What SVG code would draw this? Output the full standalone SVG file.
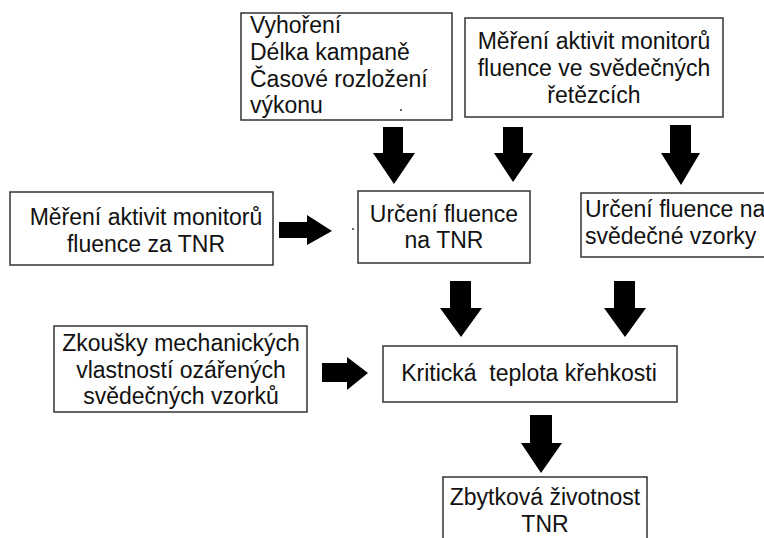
<svg xmlns="http://www.w3.org/2000/svg" width="764" height="538" viewBox="0 0 764 538">
<style>
.box{fill:#fff;stroke:#333;stroke-width:1.5}
.t{font-family:"Liberation Sans",Arial,sans-serif;font-size:23px;fill:#111}
.c{text-anchor:middle}
.arr{fill:#000}
</style>
<rect x="0" y="0" width="764" height="538" fill="#fff"/>
<g id="connectors">
<polygon class="arr" points="383,127 403,127 403,153 415,153 394,184 373,153 383,153"/>
<polygon class="arr" points="503,127 523,127 523,153 533,153 513,182 494,153 503,153"/>
<polygon class="arr" points="670,125 691,125 691,153 700,153 681,185 661,153 670,153"/>
<polygon class="arr" points="450,281 471,281 471,308 482,308 461,337 440,308 450,308"/>
<polygon class="arr" points="614,281 635,281 635,308 646,308 625,337 604,308 614,308"/>
<polygon class="arr" points="530,415 552,415 552,443 562,443 541,473 521,443 530,443"/>
<polygon class="arr" points="279,222 307,222 307,215 332,231 307,245 307,238 279,238"/>
<polygon class="arr" points="322,363 347,363 347,357 368,373 347,390 347,382 322,382"/>
</g>
<g id="n1">
<rect class="box" x="241" y="13" width="211" height="107"/>
<text class="t" x="250" y="33">Vyhoření</text>
<text class="t" x="250" y="60">Délka kampaně</text>
<text class="t" x="250" y="87">Časové rozložení</text>
<text class="t" x="250" y="113">výkonu</text>
<circle cx="401" cy="110" r="1" fill="#333"/>
</g>
<g id="n2">
<rect class="box" x="465" y="18" width="258" height="99"/>
<text class="t c" x="594" y="49">Měření aktivit monitorů</text>
<text class="t c" x="594" y="76">fluence ve svědečných</text>
<text class="t c" x="594" y="103">řetězcích</text>
</g>
<g id="n3">
<rect class="box" x="10" y="192" width="263" height="73"/>
<text class="t c" x="146" y="225">Měření aktivit monitorů</text>
<text class="t c" x="146" y="252">fluence za TNR</text>
</g>
<g id="n4">
<rect class="box" x="358" y="191" width="172" height="72"/>
<text class="t c" x="444" y="222">Určení fluence</text>
<text class="t c" x="444" y="248">na TNR</text>
<circle cx="353" cy="229" r="1" fill="#333"/>
</g>
<g id="n5">
<rect class="box" x="581" y="193" width="200" height="64"/>
<text class="t" x="585" y="217">Určení fluence na</text>
<text class="t" x="585" y="244">svědečné vzorky</text>
</g>
<g id="n6">
<rect class="box" x="383" y="346" width="294" height="56"/>
<text class="t c" x="529" y="381" xml:space="preserve">Kritická  teplota křehkosti</text>
</g>
<g id="n7">
<rect class="box" x="54" y="326" width="253" height="86"/>
<text class="t c" x="181" y="351">Zkoušky mechanických</text>
<text class="t c" x="181" y="378">vlastností ozářených</text>
<text class="t c" x="181" y="404">svědečných vzorků</text>
</g>
<g id="n8">
<rect class="box" x="443" y="477" width="204" height="70"/>
<text class="t c" x="545" y="505">Zbytková životnost</text>
<text class="t c" x="545" y="532">TNR</text>
</g>
</svg>
